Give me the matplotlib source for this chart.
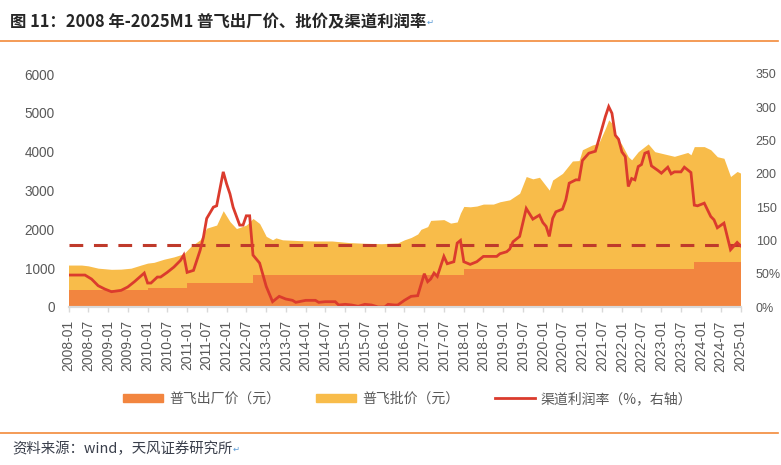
import matplotlib
matplotlib.use('Agg')
import matplotlib.pyplot as plt
import matplotlib.dates as mdates
from matplotlib.patches import Patch
from matplotlib.lines import Line2D
import pandas as pd

plt.rcParams['font.family'] = ['Liberation Sans', 'Noto Sans CJK SC', 'DejaVu Sans']
CJK = ['Noto Sans CJK SC', 'DejaVu Sans']

# 普飞出厂价 (元), step changes
factory_dates = ['2008-01', '2010-01', '2011-01', '2012-09', '2018-01', '2023-11', '2025-01']
factory_price = [438, 499, 619, 819, 969, 1169, 1169]

# 普飞批价 (元)
retail_dates = ['2008-01', '2008-05', '2008-07', '2008-10', '2009-02', '2009-05', '2009-08', '2009-11',
                '2010-01', '2010-03', '2010-06', '2010-09', '2010-12', '2011-02', '2011-05', '2011-07',
                '2011-10', '2011-12', '2012-02', '2012-04', '2012-07', '2012-09', '2012-11', '2012-12',
                '2013-01', '2013-03', '2013-04', '2013-06', '2013-11', '2014-04', '2014-09', '2015-02',
                '2015-07', '2015-12', '2016-05', '2016-07', '2016-09', '2016-11', '2016-12', '2017-02',
                '2017-03', '2017-07', '2017-09', '2017-11', '2017-12', '2018-01', '2018-03', '2018-05',
                '2018-07', '2018-10', '2018-12', '2019-03', '2019-06', '2019-08', '2019-10', '2019-12',
                '2020-03', '2020-04', '2020-07', '2020-10', '2020-12', '2021-01', '2021-04', '2021-06',
                '2021-08', '2021-09', '2021-10', '2021-11', '2022-01', '2022-03', '2022-04', '2022-06',
                '2022-09', '2022-11', '2023-03', '2023-05', '2023-09', '2023-10', '2023-11', '2024-02',
                '2024-04', '2024-06', '2024-08', '2024-10', '2024-12', '2025-01']
retail_price = [1080, 1080, 1060, 1000, 970, 975, 1000, 1080,
                1130, 1150, 1230, 1290, 1370, 1550, 1730, 2030,
                2110, 2480, 2200, 2020, 2110, 2280, 2150, 1990,
                1820, 1730, 1780, 1730, 1710, 1700, 1700, 1660,
                1640, 1630, 1650, 1730, 1790, 1880, 2000, 2070,
                2230, 2250, 2160, 2190, 2420, 2590, 2580, 2600,
                2650, 2650, 2710, 2760, 2930, 3360, 3300, 3340,
                3010, 3270, 3440, 3760, 3770, 4050, 4170, 4220,
                4600, 4820, 4730, 4430, 4180, 3870, 3790, 4000,
                4200, 4000, 3920, 3880, 3980, 3920, 4130, 4130,
                4050, 3870, 3830, 3360, 3490, 3450]

# 渠道利润率 (%)
profit_dates = ['2008-01', '2008-06', '2008-08', '2008-10', '2008-12', '2009-02', '2009-05', '2009-07',
                '2009-09', '2009-12', '2010-01', '2010-02', '2010-04', '2010-05', '2010-07', '2010-09',
                '2010-11', '2010-12', '2011-01', '2011-03', '2011-05', '2011-06', '2011-07', '2011-09',
                '2011-10', '2011-12', '2012-01', '2012-02', '2012-03', '2012-05', '2012-06', '2012-07',
                '2012-08', '2012-09', '2012-11', '2013-01', '2013-03', '2013-05', '2013-07', '2013-09',
                '2013-10', '2014-01', '2014-04', '2014-05', '2014-07', '2014-10', '2014-11', '2015-01',
                '2015-03', '2015-05', '2015-07', '2015-09', '2015-11', '2016-01', '2016-02', '2016-04',
                '2016-05', '2016-07', '2016-09', '2016-11', '2016-12', '2017-01', '2017-02', '2017-03',
                '2017-04', '2017-05', '2017-07', '2017-08', '2017-10', '2017-11', '2017-12', '2018-01',
                '2018-03', '2018-05', '2018-07', '2018-11', '2018-12', '2019-02', '2019-03', '2019-04',
                '2019-06', '2019-08', '2019-10', '2019-12', '2020-01', '2020-02', '2020-03', '2020-04',
                '2020-05', '2020-07', '2020-08', '2020-09', '2020-11', '2020-12', '2021-01', '2021-03',
                '2021-05', '2021-06', '2021-08', '2021-09', '2021-10', '2021-11', '2021-12', '2022-01',
                '2022-02', '2022-03', '2022-04', '2022-05', '2022-06', '2022-07', '2022-08', '2022-09',
                '2022-10', '2022-12', '2023-01', '2023-03', '2023-04', '2023-05', '2023-07', '2023-08',
                '2023-10', '2023-11', '2023-12', '2024-02', '2024-04', '2024-05', '2024-06', '2024-08',
                '2024-10', '2024-12', '2025-01']
profit_rate = [48, 48, 42, 32, 27, 23, 25, 30,
               38, 51, 36, 36, 45, 45, 52, 60,
               70, 78, 52, 55, 85, 105, 133, 150,
               152, 203, 185, 170, 150, 123, 123, 137,
               137, 78, 66, 31, 8, 16, 12, 10,
               7, 10, 10, 7, 8, 8, 3, 4,
               3, 1, 4, 3, 0, 0, 4, 3,
               3, 10, 16, 17, 33, 50, 38, 42,
               51, 46, 76, 65, 68, 96, 100, 68,
               64, 68, 76, 76, 80, 83, 87, 98,
               106, 148, 132, 138, 127, 121, 106, 133,
               143, 147, 161, 186, 191, 191, 220, 231,
               234, 251, 286, 301, 291, 258, 252, 233,
               226, 181, 193, 191, 211, 214, 231, 233,
               212, 205, 201, 210, 200, 203, 203, 210,
               202, 153, 152, 156, 136, 131, 119, 126,
               86, 97, 92]

avg_rate = 93

left_ticks = [0, 1000, 2000, 3000, 4000, 5000, 6000]
right_ticks = [0, 50, 100, 150, 200, 250, 300, 350]
right_labels = ['0%', '50%', '100', '150', '200', '250', '300', '350']

c_factory = '#F2853F'
c_retail = '#F8BC4A'
c_line = '#DB3B2D'
c_avg = '#BF3A2B'
c_text = '#595959'
c_rule = '#F28A3A'

fd = pd.to_datetime(factory_dates)
rd = pd.to_datetime(retail_dates)
pdt = pd.to_datetime(profit_dates)

fig = plt.figure(figsize=(7.81, 4.65), dpi=100)
ax = fig.add_axes([68.5 / 781, 1 - 307 / 465, (740.5 - 68.5) / 781, (307 - 74) / 465])
ax2 = ax.twinx()

ax.fill_between(rd, 0, retail_price, color=c_retail, lw=0, zorder=1)
ax.fill_between(fd, 0, factory_price, step='post', color=c_factory, lw=0, zorder=2)

ax2.plot([rd[0], rd[-1]], [avg_rate, avg_rate], color=c_avg, lw=2.2, dashes=(4.5, 3.5))
ax2.plot(pdt, profit_rate, color=c_line, lw=2.0, solid_joinstyle='miter')

ax.set_xlim(rd[0], rd[-1])
ax.set_ylim(0, 6000)
ax.set_yticks(left_ticks)
ax2.set_ylim(0, 350)
ax2.set_yticks(right_ticks)
ax2.set_yticklabels(right_labels)

ax.xaxis.set_major_locator(mdates.MonthLocator(bymonth=[1, 7]))
ax.xaxis.set_major_formatter(mdates.DateFormatter('%Y-%m'))

for a in (ax, ax2):
    for s in ('top', 'left', 'right'):
        a.spines[s].set_visible(False)
    a.spines['bottom'].set_color('#D9D9D9')
    a.spines['bottom'].set_linewidth(1.5)

ax.tick_params(axis='x', rotation=90, labelsize=10, labelcolor=c_text, color='#D9D9D9',
               length=3.5, width=1, pad=6)
ax.tick_params(axis='y', labelsize=9.8, labelcolor=c_text, length=0, pad=10)
ax2.tick_params(axis='y', labelsize=9, labelcolor=c_text, length=0, pad=11)

handles = [Patch(color=c_factory), Patch(color=c_retail), Line2D([], [], color=c_line, lw=2)]
labels = ['普飞出厂价（元）', '普飞批价（元）', '渠道利润率（%，右轴）']
fig.legend(handles, labels, loc='center', bbox_to_anchor=(0.522, 1 - 399 / 465), ncol=3,
           frameon=False, prop={'family': CJK, 'size': 10}, labelcolor=c_text,
           handlelength=2.9, handleheight=0.55, handletextpad=0.4, columnspacing=2.6)

title = fig.text(10 / 781, 1 - 22 / 465, '图 11：2008 年-2025M1 普飞出厂价、批价及渠道利润率',
                 family=CJK, fontsize=11.8, fontweight='bold', color='#262626', va='center')
source = fig.text(12 / 781, 1 - 449 / 465, '资料来源：wind，天风证券研究所',
                  family=CJK, fontsize=10.4, color='#3A3F4B', va='center')
for yy in (41, 433):
    fig.add_artist(Line2D([0, 778 / 781], [1 - yy / 465, 1 - yy / 465], color=c_rule, lw=1.2,
                          transform=fig.transFigure))

fig.canvas.draw()
r = fig.canvas.get_renderer()
for t in (title, source):
    bb = t.get_window_extent(r)
    fig.text(bb.x1 / fig.bbox.width, (bb.y0 + bb.y1) / 2 / fig.bbox.height, '↵',
             family=['DejaVu Sans'], fontsize=6, color='#5B9BD5', va='center')

fig.savefig('out.png', dpi=100)
